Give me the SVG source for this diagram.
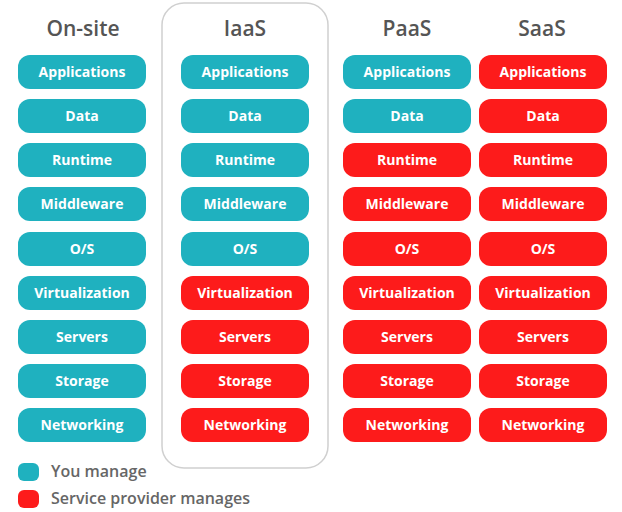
<svg xmlns="http://www.w3.org/2000/svg" width="622" height="512" viewBox="0 0 622 512">
<style>
.t{font-family:"Open Sans","Noto Sans",sans-serif;font-weight:600;font-size:21px;fill:#555;text-anchor:middle}
.p{font-family:"Open Sans","Noto Sans",sans-serif;font-weight:700;font-size:14px;fill:#fff;text-anchor:middle}
.l{font-family:"Open Sans","Noto Sans",sans-serif;font-weight:600;font-size:16px;fill:#666}
.u{fill:#1fb1bf}
.s{fill:#fd1b1b}
</style>
<defs>
<rect id="pill" width="128" height="34" rx="12"/>
</defs>
<rect width="622" height="512" fill="#fff"/>
<g id="iaas-frame"><rect x="162" y="3" width="166" height="465" rx="22" fill="none" stroke="#d0d0d0" stroke-width="1.5"/></g>
<g id="titles">
<text class="t" x="83" y="36">On-site</text>
<text class="t" x="245" y="36">IaaS</text>
<text class="t" x="407" y="36">PaaS</text>
<text class="t" x="542" y="36">SaaS</text>
</g>
<g id="onsite">
<use href="#pill" class="u" x="18" y="55"/><text class="p" x="82" y="77">Applications</text>
<use href="#pill" class="u" x="18" y="99"/><text class="p" x="82" y="121">Data</text>
<use href="#pill" class="u" x="18" y="143"/><text class="p" x="82" y="165">Runtime</text>
<use href="#pill" class="u" x="18" y="187"/><text class="p" x="82" y="209">Middleware</text>
<use href="#pill" class="u" x="18" y="232"/><text class="p" x="82" y="254">O/S</text>
<use href="#pill" class="u" x="18" y="276"/><text class="p" x="82" y="298">Virtualization</text>
<use href="#pill" class="u" x="18" y="320"/><text class="p" x="82" y="342">Servers</text>
<use href="#pill" class="u" x="18" y="364"/><text class="p" x="82" y="386">Storage</text>
<use href="#pill" class="u" x="18" y="408"/><text class="p" x="82" y="430">Networking</text>
</g>
<g id="iaas">
<use href="#pill" class="u" x="181" y="55"/><text class="p" x="245" y="77">Applications</text>
<use href="#pill" class="u" x="181" y="99"/><text class="p" x="245" y="121">Data</text>
<use href="#pill" class="u" x="181" y="143"/><text class="p" x="245" y="165">Runtime</text>
<use href="#pill" class="u" x="181" y="187"/><text class="p" x="245" y="209">Middleware</text>
<use href="#pill" class="u" x="181" y="232"/><text class="p" x="245" y="254">O/S</text>
<use href="#pill" class="s" x="181" y="276"/><text class="p" x="245" y="298">Virtualization</text>
<use href="#pill" class="s" x="181" y="320"/><text class="p" x="245" y="342">Servers</text>
<use href="#pill" class="s" x="181" y="364"/><text class="p" x="245" y="386">Storage</text>
<use href="#pill" class="s" x="181" y="408"/><text class="p" x="245" y="430">Networking</text>
</g>
<g id="paas">
<use href="#pill" class="u" x="343" y="55"/><text class="p" x="407" y="77">Applications</text>
<use href="#pill" class="u" x="343" y="99"/><text class="p" x="407" y="121">Data</text>
<use href="#pill" class="s" x="343" y="143"/><text class="p" x="407" y="165">Runtime</text>
<use href="#pill" class="s" x="343" y="187"/><text class="p" x="407" y="209">Middleware</text>
<use href="#pill" class="s" x="343" y="232"/><text class="p" x="407" y="254">O/S</text>
<use href="#pill" class="s" x="343" y="276"/><text class="p" x="407" y="298">Virtualization</text>
<use href="#pill" class="s" x="343" y="320"/><text class="p" x="407" y="342">Servers</text>
<use href="#pill" class="s" x="343" y="364"/><text class="p" x="407" y="386">Storage</text>
<use href="#pill" class="s" x="343" y="408"/><text class="p" x="407" y="430">Networking</text>
</g>
<g id="saas">
<use href="#pill" class="s" x="479" y="55"/><text class="p" x="543" y="77">Applications</text>
<use href="#pill" class="s" x="479" y="99"/><text class="p" x="543" y="121">Data</text>
<use href="#pill" class="s" x="479" y="143"/><text class="p" x="543" y="165">Runtime</text>
<use href="#pill" class="s" x="479" y="187"/><text class="p" x="543" y="209">Middleware</text>
<use href="#pill" class="s" x="479" y="232"/><text class="p" x="543" y="254">O/S</text>
<use href="#pill" class="s" x="479" y="276"/><text class="p" x="543" y="298">Virtualization</text>
<use href="#pill" class="s" x="479" y="320"/><text class="p" x="543" y="342">Servers</text>
<use href="#pill" class="s" x="479" y="364"/><text class="p" x="543" y="386">Storage</text>
<use href="#pill" class="s" x="479" y="408"/><text class="p" x="543" y="430">Networking</text>
</g>
<g id="legend">
<rect class="u" x="18" y="463" width="21" height="18" rx="6"/>
<text class="l" x="51" y="477">You manage</text>
<rect class="s" x="18" y="490" width="21" height="18" rx="6"/>
<text class="l" x="51" y="504">Service provider manages</text>
</g>
<g id="connectors"/>
</svg>
